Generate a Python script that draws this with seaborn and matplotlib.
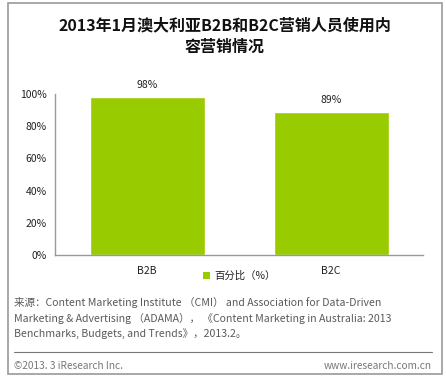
import matplotlib
matplotlib.use("Agg")
import matplotlib.pyplot as plt
import seaborn as sns
import pandas as pd
from matplotlib.patches import Rectangle
from matplotlib.lines import Line2D

categories = ["B2B", "B2C"]
values = [98, 89]
series_name = "百分比（%）"
yticks = [0, 20, 40, 60, 80, 100]
title = "2013年1月澳大利亚B2B和B2C营销人员使用内\n容营销情况"
source = ("来源：Content Marketing Institute （CMI） and Association for Data-Driven\n"
          "Marketing & Advertising （ADAMA）， 《Content Marketing in Australia: 2013\n"
          "Benchmarks, Budgets, and Trends》，2013.2。")
footer_left = "©2013. 3 iResearch Inc."
footer_right = "www.iresearch.com.cn"

sns.set_theme(style="white")
plt.rcParams['font.family'] = ['Noto Sans CJK SC', 'DejaVu Sans']

W, H = 446, 383
fig = plt.figure(figsize=(W / 100, H / 100), dpi=100)

def fx(x):
    return x / W

def fy(y):
    return 1 - y / H

# outer border
fig.add_artist(Rectangle((fx(8), fy(374)), fx(442) - fx(8), fy(3) - fy(374),
                         transform=fig.transFigure, fill=False, edgecolor="#999999", lw=1.2))

ax = fig.add_axes([fx(55), fy(255), fx(423) - fx(55), fy(94) - fy(255)])
df = pd.DataFrame({"cat": categories, "val": values})
sns.barplot(data=df, x="cat", y="val", color="#99CC00", saturation=1, width=0.625, ax=ax)
ax.set_xlim(-0.5, 1.5)
ax.set_ylim(0, 100)
ax.set_yticks(yticks)
ax.set_yticklabels([f"{t}%" for t in yticks], fontsize=7.5, color="#222222")
ax.tick_params(axis="x", labelsize=7.5, colors="#222222", length=0, pad=8)
ax.tick_params(axis="y", length=0, pad=6)
ax.set_xlabel("")
ax.set_ylabel("")
for s in ["top", "right"]:
    ax.spines[s].set_visible(False)
for s in ["left", "bottom"]:
    ax.spines[s].set_color("#999999")
    ax.spines[s].set_linewidth(1)
ax.spines["bottom"].set_bounds(-0.5, 1.5)
for c in ax.containers:
    ax.bar_label(c, labels=[f"{v}%" for v in values], padding=5, fontsize=7.5, color="#222222")

# title
fig.text(fx(225), fy(36), title, ha="center", va="center", fontsize=11.5, fontweight="bold",
         color="#111111", linespacing=1.45)

# legend
fig.add_artist(Rectangle((fx(203), fy(279)), fx(7), fy(272) - fy(279) + 0, transform=fig.transFigure,
                         facecolor="#99CC00", edgecolor="none"))
fig.text(fx(214), fy(276), series_name, ha="left", va="center", fontsize=7.5, color="#222222")

# source
fig.text(fx(14), fy(318), source, ha="left", va="center", fontsize=7.6, color="#5a5a5a",
         linespacing=1.45)
fig.add_artist(Line2D([fx(14), fx(432)], [fy(352), fy(352)], transform=fig.transFigure,
                      color="#777777", lw=0.8))
fig.text(fx(14), fy(366), footer_left, ha="left", va="center", fontsize=7.3, color="#777777")
fig.text(fx(432), fy(366), footer_right, ha="right", va="center", fontsize=7.3, color="#777777")

fig.savefig("out.png", dpi=100)
